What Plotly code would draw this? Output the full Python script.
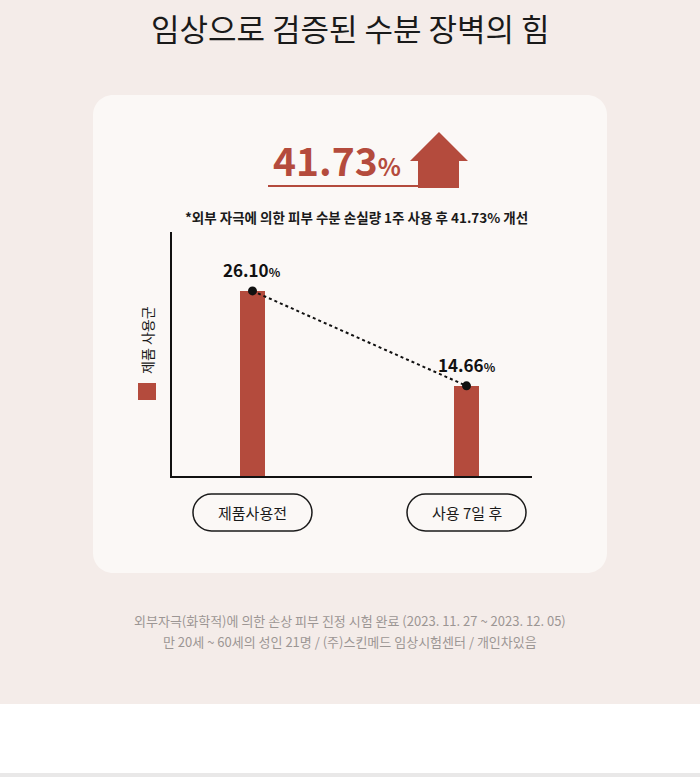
import plotly.graph_objects as go

W, H = 700, 777

categories = ["제품사용전", "사용 7일 후"]
values = [26.10, 14.66]
value_labels = ["26.10", "14.66"]
improvement = "41.73"
legend_name = "제품 사용군"
title_text = "임상으로 검증된 수분 장벽의 힘"
subtitle_text = "*외부 자극에 의한 피부 수분 손실량 1주 사용 후 41.73% 개선"
footnotes = [
    "외부자극(화학적)에 의한 손상 피부 진정 시험 완료 (2023. 11. 27 ~ 2023. 12. 05)",
    "만 20세 ~ 60세의 성인 21명 / (주)스킨메드 임상시험센터 / 개인차있음",
]

FONT = "Noto Sans CJK KR"
BAR = "#b44b3d"
BG = "#f4ece9"
CARD = "#fbf8f6"


def px(x):
    return x / W


def py(y):
    return 1 - y / H


def rrect_path(x0, y0, x1, y1, r):
    k = 0.5523 * r
    pts = [
        ("M", [(x0 + r, y0)]),
        ("L", [(x1 - r, y0)]),
        ("C", [(x1 - r + k, y0), (x1, y0 + r - k), (x1, y0 + r)]),
        ("L", [(x1, y1 - r)]),
        ("C", [(x1, y1 - r + k), (x1 - r + k, y1), (x1 - r, y1)]),
        ("L", [(x0 + r, y1)]),
        ("C", [(x0 + r - k, y1), (x0, y1 - r + k), (x0, y1 - r)]),
        ("L", [(x0, y0 + r)]),
        ("C", [(x0, y0 + r - k), (x0 + r - k, y0), (x0 + r, y0)]),
    ]
    s = ""
    for cmd, ps in pts:
        s += cmd + " " + " ".join(f"{px(a):.5f},{py(b):.5f}" for a, b in ps) + " "
    return s + "Z"


def poly_path(points):
    return "M " + " L ".join(f"{px(a):.5f},{py(b):.5f}" for a, b in points) + " Z"


# plot area (pixels)
X0, X1 = 172, 532
Y0, Y1 = 232, 476
XR = [-0.376, 1.306]
YR = [3.8, 33.2]

fig = go.Figure()

fig.add_trace(go.Bar(
    x=categories, y=values, width=0.117,
    marker=dict(color=BAR, line=dict(width=0)),
    showlegend=False, hoverinfo="skip",
))
fig.add_trace(go.Scatter(
    x=categories, y=values, mode="lines+markers",
    line=dict(color="#111111", width=2, dash="dot"),
    marker=dict(color="#111111", size=9),
    showlegend=False, hoverinfo="skip", cliponaxis=False,
))

shapes = []
# page background pieces
shapes.append(dict(type="rect", xref="paper", yref="paper", x0=0, x1=1, y0=py(704), y1=py(773),
                   fillcolor="#ffffff", line=dict(width=0), layer="below"))
shapes.append(dict(type="rect", xref="paper", yref="paper", x0=0, x1=1, y0=0, y1=py(773),
                   fillcolor="#e9e8e8", line=dict(width=0), layer="below"))
# card
shapes.append(dict(type="path", xref="paper", yref="paper", path=rrect_path(93, 95, 607, 573, 20),
                   fillcolor=CARD, line=dict(width=0), layer="below"))
# header underline + arrow
shapes.append(dict(type="line", xref="paper", yref="paper", x0=px(268), x1=px(420), y0=py(186), y1=py(186),
                   line=dict(color=BAR, width=2)))
shapes.append(dict(type="path", xref="paper", yref="paper",
                   path=poly_path([(439, 132), (468, 161), (459, 161), (459, 188), (418, 188), (418, 161), (410, 161)]),
                   fillcolor=BAR, line=dict(width=0)))
# legend swatch
shapes.append(dict(type="rect", xref="paper", yref="paper", x0=px(138), x1=px(156), y0=py(400), y1=py(383),
                   fillcolor=BAR, line=dict(width=0)))

annotations = []
annotations.append(dict(xref="paper", yref="paper", x=0.5, y=py(27), text=title_text, showarrow=False,
                        xanchor="center", yanchor="middle",
                        font=dict(family=FONT, size=31, color="#1a1a1a", weight=400)))
annotations.append(dict(xref="paper", yref="paper", x=px(337), y=py(159),
                        text=f"<b>{improvement}</b><span style='font-size:24px'><b>%</b></span>",
                        showarrow=False, xanchor="center", yanchor="middle",
                        font=dict(family=FONT, size=39, color=BAR)))
annotations.append(dict(xref="paper", yref="paper", x=px(356), y=py(217), text=f"<b>{subtitle_text}</b>",
                        showarrow=False, xanchor="center", yanchor="middle",
                        font=dict(family=FONT, size=13.5, color="#1a1a1a")))
annotations.append(dict(xref="paper", yref="paper", x=px(147), y=py(340), text=legend_name, textangle=-90,
                        showarrow=False, xanchor="center", yanchor="middle",
                        font=dict(family=FONT, size=14, color="#1a1a1a")))

for cat, v, lab in zip(categories, values, value_labels):
    annotations.append(dict(xref="x", yref="y", x=cat, y=v, yshift=21,
                            text=f"<b>{lab}</b><span style='font-size:12px'><b>%</b></span>",
                            showarrow=False, xanchor="center", yanchor="middle",
                            font=dict(family=FONT, size=17, color="#111111")))

# category pills
for i, cat in enumerate(categories):
    cx = X0 + (i - XR[0]) / (XR[1] - XR[0]) * (X1 - X0)
    shapes.append(dict(type="path", xref="paper", yref="paper",
                       path=rrect_path(cx - 59.5, 494, cx + 59.5, 531, 18.5),
                       fillcolor="rgba(0,0,0,0)", line=dict(color="#1a1a1a", width=1.5)))
    annotations.append(dict(xref="paper", yref="paper", x=px(cx), y=py(512.5), text=cat, showarrow=False,
                            xanchor="center", yanchor="middle",
                            font=dict(family=FONT, size=15, color="#1a1a1a")))

for j, line in enumerate(footnotes):
    annotations.append(dict(xref="paper", yref="paper", x=0.5, y=py(620 + 21 * j), text=line, showarrow=False,
                            xanchor="center", yanchor="middle",
                            font=dict(family=FONT, size=13, color="#9c9694")))

fig.update_layout(
    width=W, height=H,
    margin=dict(l=0, r=0, t=0, b=0),
    paper_bgcolor=BG, plot_bgcolor="rgba(0,0,0,0)",
    showlegend=False,
    shapes=shapes, annotations=annotations,
    bargap=0,
    xaxis=dict(domain=[px(X0), px(X1)], range=XR, type="category", showline=True, linecolor="#111111",
               linewidth=1.5, showticklabels=False, ticks="", showgrid=False, zeroline=False, fixedrange=True),
    yaxis=dict(domain=[py(Y1), py(Y0)], range=YR, showline=True, linecolor="#111111", linewidth=1.5,
               showticklabels=False, ticks="", showgrid=False, zeroline=False, fixedrange=True),
)

fig.write_html("out.html", config={"displayModeBar": False})
